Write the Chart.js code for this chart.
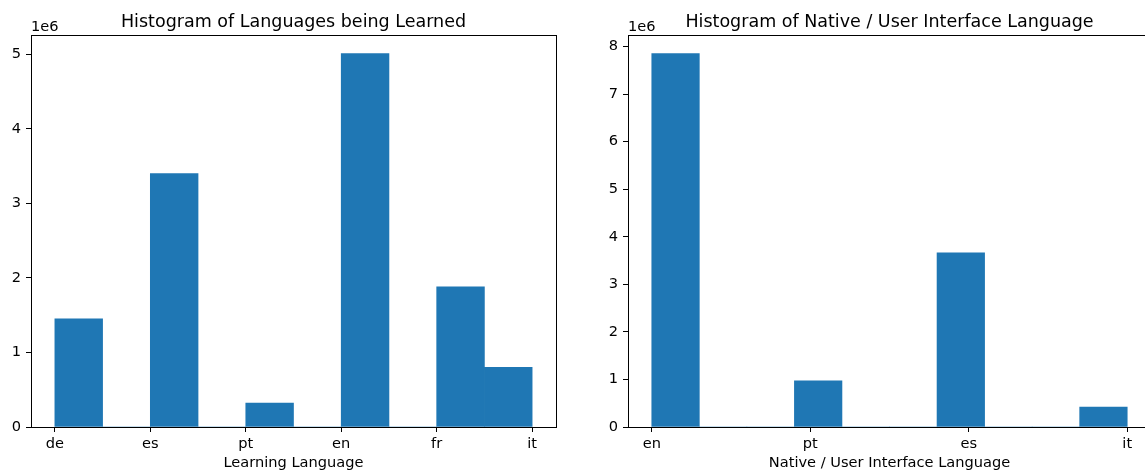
<!DOCTYPE html>
<html>
<head>
<meta charset="utf-8">
<script src="https://cdn.jsdelivr.net/npm/chart.js@4/dist/chart.umd.min.js"></script>
<style>
  html, body { margin: 0; padding: 0; background: #fff; overflow: hidden; width: 1145px; height: 474px; }
  canvas { position: absolute; top: 0; }
  #learn { left: 0; }
  #native { left: 580px; }
</style>
</head>
<body>
<canvas id="learn" width="580" height="474"></canvas>
<canvas id="native" width="600" height="474"></canvas>
<script>
// Languages being learned: number of records per language
const learnLanguages = ['de', 'es', 'pt', 'en', 'fr', 'it'];
const learnCounts = [1.45e6, 3.40e6, 0.32e6, 5.01e6, 1.88e6, 0.80e6];

// Native / UI language: number of records per language
const nativeLanguages = ['en', 'pt', 'es', 'it'];
const nativeCounts = [7.85e6, 0.97e6, 3.66e6, 0.42e6];

const yTickValues = [0, 1, 2, 3, 4, 5, 6, 7, 8];
const NUM_BINS = 10;

const BAR_COLOR = '#1f77b4';
const FONT = "'DejaVu Sans', sans-serif";
const TICK_SIZE = 14.6;
const TITLE_SIZE = 17.5;

// Categories sit at 0..n-1; the range is split into equal bins and
// each category's count lands in the bin that contains its position.
function histogramBins(categories, counts, nbins) {
  const lo = 0, hi = categories.length - 1;
  const width = (hi - lo) / nbins;
  const totals = new Array(nbins).fill(0);
  counts.forEach((c, i) => {
    let b = Math.floor((i - lo) / width + 1e-9);
    if (b >= nbins) b = nbins - 1;
    totals[b] += c;
  });
  return totals.map((v, k) => ({ x: lo + (k + 0.5) * width, y: v }));
}

// Frame, title, axis label and the 1e6 offset text
const decorations = {
  id: 'decorations',
  afterDraw(chart, args, opts) {
    const { ctx, chartArea: a } = chart;
    ctx.save();
    ctx.strokeStyle = '#000';
    ctx.lineWidth = 1;
    ctx.strokeRect(Math.round(a.left) + 0.5, Math.round(a.top) + 0.5,
                   Math.round(a.right - a.left), Math.round(a.bottom - a.top));
    ctx.fillStyle = '#000';
    ctx.textBaseline = 'alphabetic';
    const cx = (a.left + a.right) / 2;
    ctx.font = TITLE_SIZE + 'px ' + FONT;
    ctx.textAlign = 'center';
    ctx.fillText(opts.title, cx, a.top - 8);
    ctx.font = TICK_SIZE + 'px ' + FONT;
    ctx.fillText(opts.xLabel, cx, 467);
    ctx.textAlign = 'left';
    ctx.fillText('1e6', a.left, a.top - 4);
    ctx.restore();
  }
};

function makeChart(id, categories, counts, title, xLabel, yAxisWidth, rightPad) {
  const n = categories.length;
  const span = n - 1;
  const ymax = Math.max(...counts) * 1.05;
  return new Chart(document.getElementById(id), {
    type: 'bar',
    data: {
      datasets: [{
        data: histogramBins(categories, counts, NUM_BINS),
        backgroundColor: BAR_COLOR,
        borderWidth: 0,
        barPercentage: 1,
        categoryPercentage: 1
      }]
    },
    options: {
      responsive: false,
      animation: false,
      devicePixelRatio: 1,
      layout: { padding: { top: 35, right: rightPad, left: 0, bottom: 0 } },
      plugins: {
        legend: { display: false },
        tooltip: { enabled: false },
        decorations: { title, xLabel }
      },
      scales: {
        x: {
          type: 'linear',
          offset: false,
          min: -0.05 * span,
          max: span * 1.05,
          afterBuildTicks(scale) {
            scale.ticks = categories.map((_, i) => ({ value: i }));
          },
          afterFit(scale) { scale.height = 47; },
          ticks: {
            autoSkip: false,
            maxRotation: 0,
            padding: 3,
            color: '#000',
            font: { family: FONT, size: TICK_SIZE },
            callback: (v) => categories[v]
          },
          grid: { drawOnChartArea: false, offset: false, tickLength: 5, color: '#000', tickWidth: 1 },
          border: { display: false }
        },
        y: {
          type: 'linear',
          min: 0,
          max: ymax,
          afterBuildTicks(scale) {
            scale.ticks = yTickValues.filter(v => v * 1e6 <= ymax).map(v => ({ value: v * 1e6 }));
          },
          afterFit(scale) { scale.width = yAxisWidth; },
          ticks: {
            padding: 5,
            color: '#000',
            font: { family: FONT, size: TICK_SIZE },
            callback: (v) => String(Math.round(v / 1e6))
          },
          grid: { drawOnChartArea: false, tickLength: 5, color: '#000', tickWidth: 1 },
          border: { display: false }
        }
      }
    },
    plugins: [decorations]
  });
}

makeChart('learn', learnLanguages, learnCounts,
  'Histogram of Languages being Learned', 'Learning Language', 31, 24);
makeChart('native', nativeLanguages, nativeCounts,
  'Histogram of Native / User Interface Language', 'Native / User Interface Language', 48, 29);
</script>
</body>
</html>
